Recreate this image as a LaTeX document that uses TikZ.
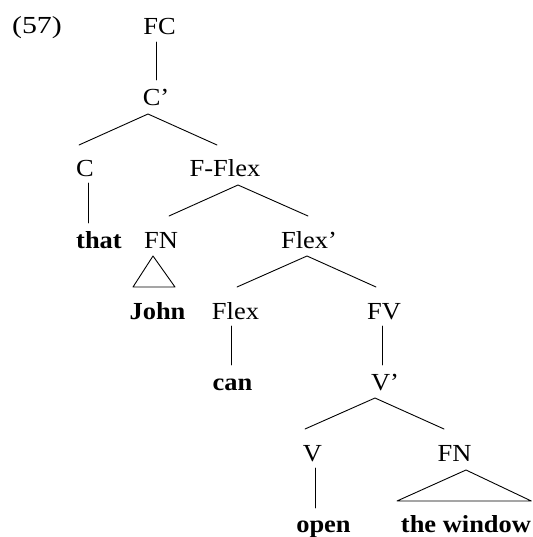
\documentclass[tikz,border=0pt]{standalone}
\usepackage{fontspec}
\setmainfont{Liberation Serif}[FakeStretch=1.08]
\newfontfamily\exfont{Liberation Serif}[FakeStretch=1.22]
\begin{document}
\begin{tikzpicture}[x=1pt,y=-1pt,
  lab/.style={anchor=base,inner sep=0pt,font=\fontsize{24.5}{28}\selectfont},
  wrd/.style={lab,font=\fontsize{24.5}{28}\selectfont\bfseries},
  edge/.style={line width=0.9pt,line cap=round,line join=round}]
\useasboundingbox (0,0) rectangle (532,537);
% labels
\node[lab,font=\fontsize{24.5}{28}\exfont] (n57) at (37,34) {(57)};
\node[lab] (FC) at (159.5,35) {FC};
\node[lab] (Cbar) at (156,106) {C'};
\node[lab] (C) at (85,177) {C};
\node[lab] (FFlex) at (225,177) {F-Flex};
\node[wrd] (that) at (99,248) {that};
\node[lab] (FN) at (161,248) {FN};
\node[lab] (Flexbar) at (309,248) {Flex'};
\node[wrd] (John) at (157.5,319) {John};
\node[lab] (Flex) at (235.5,319) {Flex};
\node[lab] (FV) at (384,319) {FV};
\node[wrd] (can) at (232.5,390) {can};
\node[lab] (Vbar) at (385,390) {V'};
\node[lab] (V) at (312.5,461) {V};
\node[lab] (FNb) at (454.5,461) {FN};
\node[wrd] (open) at (323.5,532) {open};
\node[wrd] (window) at (466,532) {the window};
% connector end points
\coordinate (FCd) at (156,42);   \coordinate (Cbaru) at (156,80);
\coordinate (Cbard) at (148,114);\coordinate (Cu) at (79,145);  \coordinate (FFlexu) at (217,145);
\coordinate (Cd) at (88,183);    \coordinate (thatu) at (88,223);
\coordinate (FFlexd) at (238,185);\coordinate (FNu) at (169,216); \coordinate (Flexbaru) at (308,216);
\coordinate (FNt) at (153,256);  \coordinate (FNl) at (133,287); \coordinate (FNr) at (175,287);
\coordinate (Flexbard) at (307,256);\coordinate (Flexu) at (237,287);\coordinate (FVu) at (376,287);
\coordinate (Flexd) at (231,326);\coordinate (canu) at (231,365);
\coordinate (FVd) at (382,326);  \coordinate (Vbaru) at (382,365);
\coordinate (Vbard) at (375,398);\coordinate (Vu) at (305,429);  \coordinate (FNbu) at (444,429);
\coordinate (Vd) at (315,468);   \coordinate (openu) at (315,508);
\coordinate (FNbt) at (466,470); \coordinate (FNbl) at (397,501);\coordinate (FNbr) at (531.3,501);
% connectors
\draw[edge] (FCd) -- (Cbaru);
\draw[edge] (Cu) -- (Cbard) -- (FFlexu);
\draw[edge] (Cd) -- (thatu);
\draw[edge] (FNu) -- (FFlexd) -- (Flexbaru);
\draw[edge] (FNt) -- (FNl) -- (FNr) -- cycle;
\draw[edge] (Flexu) -- (Flexbard) -- (FVu);
\draw[edge] (Flexd) -- (canu);
\draw[edge] (FVd) -- (Vbaru);
\draw[edge] (Vu) -- (Vbard) -- (FNbu);
\draw[edge] (Vd) -- (openu);
\draw[edge] (FNbt) -- (FNbl) -- (FNbr) -- cycle;
\end{tikzpicture}
\end{document}
